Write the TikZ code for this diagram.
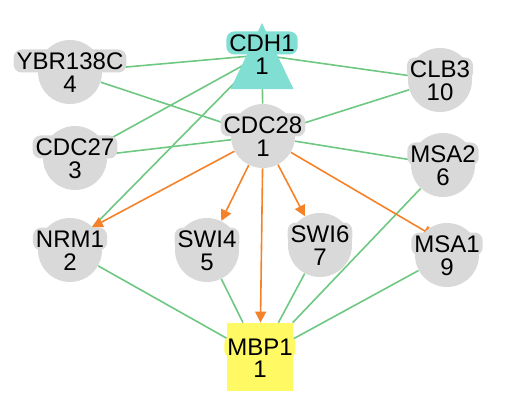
\documentclass[tikz,border=0pt]{standalone}
\usepackage{fontspec}
\setmainfont{Liberation Sans}
\usetikzlibrary{arrows.meta,positioning,calc,shapes.geometric,backgrounds}
\definecolor{geneGray}{RGB}{217, 217, 217}
\definecolor{hubTeal}{RGB}{128, 222, 211}
\definecolor{targetYellow}{RGB}{255, 250, 100}
\definecolor{linkGreen}{RGB}{110, 200, 130}
\definecolor{regOrange}{RGB}{245, 130, 40}

\begin{document}
\begin{tikzpicture}[x=0.5pt, y=-0.5pt,
    gene/.style={circle, fill=geneGray, minimum size=32pt, inner sep=0pt},
    hub/.style={isosceles triangle, shape border rotate=90, isosceles triangle stretches,
        minimum width=31.5pt, minimum height=33pt, inner sep=0pt, fill=hubTeal, anchor=apex},
    target/.style={rectangle, fill=targetYellow, minimum width=33pt, minimum height=34pt, inner sep=0pt},
    tag/.style={fill=#1, rounded corners=4pt, inner sep=1.5pt, font=\fontsize{12pt}{12pt}\selectfont},
    tag/.default=geneGray,
    num/.style={inner sep=0pt, font=\fontsize{12pt}{12pt}\selectfont},
    link/.style={draw=linkGreen, line width=0.8pt},
    act/.style={draw=regOrange, line width=0.8pt, -{Triangle[length=5.5pt, width=5.5pt]}},
    inh/.style={draw=regOrange, line width=0.8pt, -{Bar[width=5.5pt, line width=1.2pt]}}]
    \useasboundingbox (0,0) rectangle (512,410);

    % genes
    \foreach \id/\x/\y/\name/\k in {ybr/70/72/YBR138C/4, clb3/440/80/CLB3/10,
        cdc27/75/158/CDC27/3, cdc28/263/136/CDC28/1, msa2/443/165/MSA2/6,
        nrm1/70/250/NRM1/2, swi4/207/250/SWI4/5, swi6/320/245/SWI6/7, msa1/447/255/MSA1/9} {
        \node[gene] (\id) at (\x,\y) {};
        \node[tag] (\id-t) at ([yshift=5.5pt]\id.center) {\name};
        \node[num] (\id-n) at ([yshift=-6pt]\id.center) {\k};
    }

    % hub and target
    \node[hub] (cdh1) at (262,22) {};
    \coordinate (cdh1-c) at (262,55);
    \node[tag=hubTeal] (cdh1-t) at (262,43) {CDH1};
    \node[num] (cdh1-n) at (262,66) {1};
    \node[target] (mbp1) at (260,357) {};
    \node[tag=targetYellow] (mbp1-t) at (260,347) {MBP1};
    \node[num] (mbp1-n) at (260,369) {1};

    % interactions
    \begin{scope}[on background layer]
        \foreach \a/\b in {ybr/cdh1-c, ybr/cdc28, cdh1-c/clb3, cdc28/clb3, cdc27/cdh1-c, cdc27/cdc28,
            cdh1-c/cdc28, cdh1-c/nrm1, cdc28/msa2, nrm1/mbp1, swi4/mbp1, swi6/mbp1, msa2/mbp1, msa1/mbp1}
            \draw[link] (\a) -- (\b);
        \draw[act] (cdc28) -- (nrm1-t);
        \draw[act] (cdc28) -- (swi4);
        \draw[act] (cdc28) -- (swi6);
        \draw[act] (cdc28) -- (mbp1);
        \draw[inh] (cdc28) -- (msa1-t);
    \end{scope}
\end{tikzpicture}
\end{document}
